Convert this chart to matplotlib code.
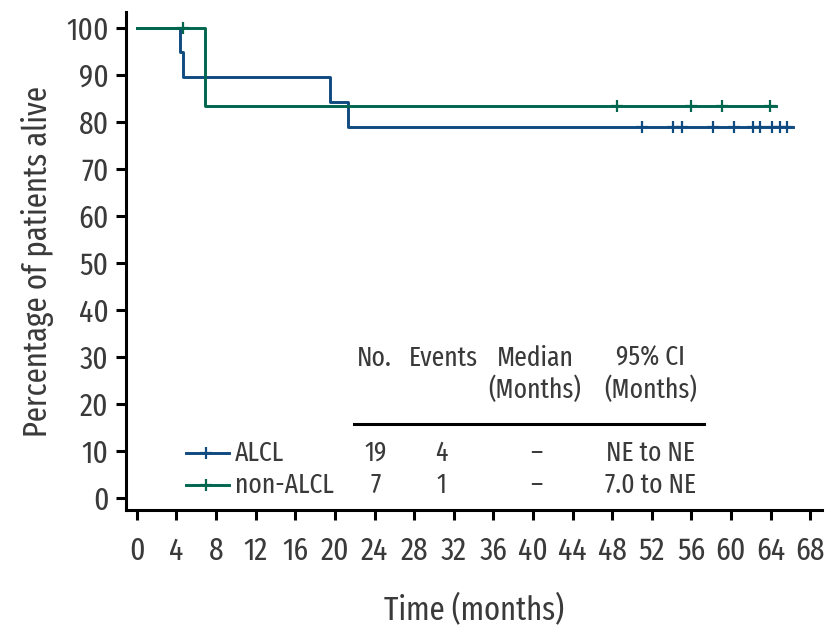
import matplotlib
matplotlib.use("Agg")
import matplotlib.pyplot as plt

plt.rcParams['font.family'] = ['Fira Sans Extra Condensed', 'DejaVu Sans']

# Kaplan-Meier step data (time in months, survival %)
alcl_t = [0, 4.4, 4.7, 19.5, 21.3, 66.3]
alcl_s = [100, 94.7, 89.5, 84.2, 78.9, 78.9]
alcl_cens_t = [51.0, 54.2, 55.1, 58.2, 60.3, 62.2, 62.9, 64.1, 65.0, 65.7]

non_t = [0, 6.9, 64.6]
non_s = [100, 83.3, 83.3]
non_cens_t = [4.7, 48.5, 56.0, 59.1, 63.9]
non_cens_s = [100, 83.3, 83.3, 83.3, 83.3]

xticks = list(range(0, 69, 4))
yticks = list(range(0, 101, 10))

blue = '#0f4a80'
green = '#00664e'
txt = '#3a3a3a'

fig = plt.figure(figsize=(8.25, 6.26), dpi=100)
W, H = 825, 626
ax = fig.add_axes([126 / W, 116 / H, (822 - 126) / W, (510 - 12) / H])

ax.step(alcl_t, alcl_s, where='post', color=blue, lw=2.1)
ax.step(non_t, non_s, where='post', color=green, lw=2.1)
ax.plot(alcl_cens_t, [78.9] * len(alcl_cens_t), '+', color=blue, ms=8, mew=1.6)
ax.plot(non_cens_t, non_cens_s, '+', color=green, ms=8, mew=1.6)

ax.set_xlim(-1.1, 69.2)
ax.set_ylim(-2.5, 103.3)
ax.set_xticks(xticks)
ax.set_yticks(yticks)
ax.tick_params(axis='both', labelsize=23, colors='black', labelcolor=txt,
               length=7.5, width=2.2, pad=5)
ax.tick_params(axis='x', pad=11)
for s in ['top', 'right']:
    ax.spines[s].set_visible(False)
for s in ['left', 'bottom']:
    ax.spines[s].set_linewidth(2.2)

ax.set_xlabel('Time (months)', fontsize=24, color=txt, labelpad=20)
ax.set_ylabel('Percentage of patients alive', fontsize=24, color=txt, labelpad=9)

# table-like legend
def px(x, y):
    return x / W, 1 - y / H

fs = 20
fig.text(*px(357, 358), 'No.', fontsize=fs, color=txt, va='center', ha='left')
fig.text(*px(443, 358), 'Events', fontsize=fs, color=txt, va='center', ha='center')
fig.text(*px(535, 358), 'Median', fontsize=fs, color=txt, va='center', ha='center')
fig.text(*px(535, 390), '(Months)', fontsize=fs, color=txt, va='center', ha='center')
fig.text(*px(651, 358), '95% CI', fontsize=fs, color=txt, va='center', ha='center')
fig.text(*px(651, 390), '(Months)', fontsize=fs, color=txt, va='center', ha='center')
fig.add_artist(plt.Line2D([354 / W, 704 / W], [1 - 424 / H] * 2, color='black', lw=2.2))

rows = [('ALCL', blue, '19', '4', '–', 'NE to NE', 453),
        ('non-ALCL', green, '7', '1', '–', '7.0 to NE', 485)]
for name, col, n, ev, med, ci, y in rows:
    yy = 1 - y / H
    fig.add_artist(plt.Line2D([186 / W, 229 / W], [yy, yy], color=col, lw=2.1))
    fig.add_artist(plt.Line2D([206 / W], [yy], color=col, marker='+', ms=8, mew=1.6))
    fig.text(*px(235, y), name, fontsize=fs, color=txt, va='center', ha='left')
    fig.text(*px(376, y), n, fontsize=fs, color=txt, va='center', ha='center')
    fig.text(*px(441, y), ev, fontsize=fs, color=txt, va='center', ha='center')
    fig.text(*px(536, y), med, fontsize=fs, color=txt, va='center', ha='center')
    fig.text(*px(651, y), ci, fontsize=fs, color=txt, va='center', ha='center')

fig.savefig('out.png', dpi=100)
